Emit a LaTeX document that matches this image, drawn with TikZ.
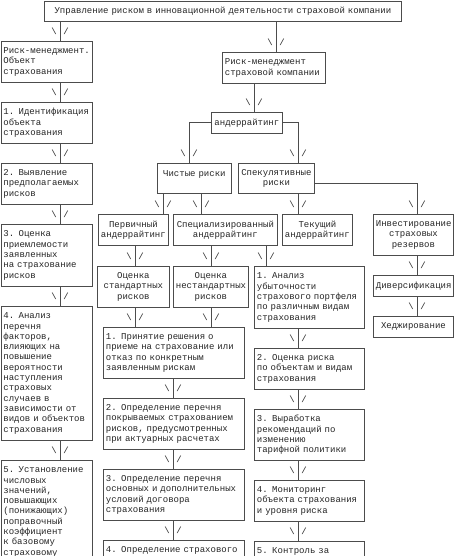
\documentclass[tikz,border=0pt]{standalone}
\usepackage{fontspec}
\usepackage{xcolor}
\usepackage{tikz}
\usetikzlibrary{decorations.markings}
\newfontfamily\diagmono{Liberation Mono}
\definecolor{linecol}{gray}{0.3}
\definecolor{textcol}{gray}{0.15}
\hyphenpenalty=10000
\exhyphenpenalty=10000

\tikzset{
  box/.style={draw=linecol, line width=0.8pt, anchor=north west, inner xsep=2.5pt, inner ysep=0pt,
    text=textcol, font=\diagmono\fontsize{9pt}{10.3pt}\selectfont},
  lbox/.style={box, align=left},
  cbox/.style={box, align=center},
  glyph/.style={inner sep=0pt, text=textcol, font=\diagmono\fontsize{9pt}{10.3pt}\selectfont},
  flow/.style={draw=linecol, line width=0.8pt, postaction={decorate},
    decoration={markings, mark=at position -10pt with {\node[glyph] at (0pt,-6pt) {\textbackslash}; \node[glyph] at (0pt,6pt) {/};}}}
}

\begin{document}
\begin{tikzpicture}[x=1pt, y=-1pt]

\path[use as bounding box, fill=white] (0,0) rectangle (455,556);
\clip (0,0) rectangle (455,556);

% columns of the connectors
\coordinate (xLeft) at (60,0);
\coordinate (xRmk) at (276,0);
\coordinate (xUnd) at (254,0);
\coordinate (xPure) at (189,0);
\coordinate (xSpec) at (298,0);
\coordinate (xInv) at (417,0);
\coordinate (xPrim) at (163,0);
\coordinate (xSpez) at (201,0);
\coordinate (xStd) at (135,0);
\coordinate (xNstd) at (211,0);
\coordinate (xAnal) at (266,0);
\coordinate (xCen) at (173,0);

% Title
\node[cbox, text width=352pt, minimum height=20pt] (main) at (44,1) {Управление риском в инновационной деятельности страховой компании};

% Left column
\node[lbox, text width=86.5pt, minimum height=41pt] (rmo) at (0.5,41) {Риск-менеджмент.\\Объект\\страхования};
\node[lbox, text width=86.5pt, minimum height=41pt] (id1) at (0.5,102) {1. Идентификация\\объекта\\страхования};
\node[lbox, text width=86.5pt, minimum height=41pt] (id2) at (0.5,163) {2. Выявление\\предполагаемых\\рисков};
\node[lbox, text width=86.5pt, minimum height=62pt] (id3) at (0.5,224) {3. Оценка\\приемлемости\\заявленных\\на страхование\\рисков};
\node[lbox, text width=86.5pt, minimum height=134pt] (id4) at (0.5,306) {4. Анализ\\перечня\\факторов,\\влияющих на\\повышение\\вероятности\\наступления\\страховых\\случаев в\\зависимости от\\видов и объектов\\страхования};
\node[lbox, text width=86.5pt, minimum height=103pt] (id5) at (0.5,460) {5. Установление\\числовых\\значений,\\повышающих\\(понижающих)\\поправочный\\коэффициент\\к базовому\\страховому};

% Company branch
\node[lbox, text width=98pt, minimum height=31pt] (rmk) at (222,52) {Риск-менеджмент\\страховой компании};
\node[cbox, text width=66pt, minimum height=21pt] (und) at (211,112) {андеррайтинг};
\node[cbox, text width=69pt, minimum height=30pt] (pure) at (157,163) {Чистые риски\\\mbox{}};
\node[cbox, text width=71pt, minimum height=30pt] (spec) at (238,163) {Спекулятивные\\риски};
\node[cbox, text width=65pt, minimum height=31pt] (prim) at (98,214) {Первичный\\андеррайтинг};
\node[cbox, text width=99pt, minimum height=31pt] (spez) at (173,214) {Специализированный\\андеррайтинг};
\node[cbox, text width=65pt, minimum height=31pt] (tek) at (282,214) {Текущий\\андеррайтинг};
\node[cbox, text width=75pt, minimum height=41pt] (inv) at (373,214) {Инвестирование\\страховых\\резервов};
\node[cbox, text width=75pt, minimum height=21pt] (div) at (373,275) {Диверсификация};
\node[cbox, text width=75pt, minimum height=21pt] (hed) at (373,316) {Хеджирование};
\node[cbox, text width=67pt, minimum height=41pt] (std) at (97,266) {Оценка\\стандартных\\рисков};
\node[cbox, text width=70pt, minimum height=41pt] (nstd) at (173,266) {Оценка\\нестандартных\\рисков};

% Middle column
\node[lbox, text width=136pt, minimum height=51pt] (c1) at (103,327) {1. Принятие решения о\\приеме на страхование или\\отказ по конкретным\\заявленным рискам};
\node[lbox, text width=136pt, minimum height=51pt] (c2) at (103,398) {2. Определение перечня\\покрываемых страхованием\\рисков, предусмотренных\\при актуарных расчетах};
\node[lbox, text width=136pt, minimum height=51pt] (c3) at (103,469) {3. Определение перечня\\основных и дополнительных\\условий договора\\страхования};
\node[lbox, text width=136pt, minimum height=21pt] (c4) at (103,540) {4. Определение страхового};

% Right column
\node[lbox, text width=105pt, minimum height=62pt] (r1) at (254,266) {1. Анализ\\убыточности\\страхового портфеля\\по различным видам\\страхования};
\node[lbox, text width=105pt, minimum height=41pt] (r2) at (254,348) {2. Оценка риска\\по объектам и видам\\страхования};
\node[lbox, text width=105pt, minimum height=51pt] (r3) at (254,409) {3. Выработка\\рекомендаций по\\изменению\\тарифной политики};
\node[lbox, text width=105pt, minimum height=41pt] (r4) at (254,480) {4. Мониторинг\\объекта страхования\\и уровня риска};
\node[lbox, text width=105pt, minimum height=21pt] (r5) at (254,541) {5. Контроль за};

% Connectors
\draw[flow] (main.south -| xLeft) -- (rmo.north -| xLeft);
\draw[flow] (main.south -| xRmk) -- (rmk.north -| xRmk);
\foreach \a/\b in {rmo/id1, id1/id2, id2/id3, id3/id4, id4/id5}
  \draw[flow] (\a.south -| xLeft) -- (\b.north -| xLeft);
\draw[flow] (rmk.south -| xUnd) -- (und.north -| xUnd);
\draw[flow] (und.west) -| (pure.north -| xPure);
\draw[flow] (und.east) -| (spec.north -| xSpec);
\draw[flow] ([yshift=-5pt]spec.east) -| (inv.north -| xInv);
\draw[flow] (pure.south -| xPrim) -- (prim.north -| xPrim);
\draw[flow] (pure.south -| xSpez) -- (spez.north -| xSpez);
\draw[flow] (spec.south -| xSpec) -- (tek.north -| xSpec);
\draw[flow] (inv.south -| xInv) -- (div.north -| xInv);
\draw[flow] (div.south -| xInv) -- (hed.north -| xInv);
\draw[flow] (prim.south -| xStd) -- (std.north -| xStd);
\draw[flow] (spez.south -| xNstd) -- (nstd.north -| xNstd);
\draw[flow] (spez.south -| xAnal) -- (r1.north -| xAnal);
\draw[flow] (std.south -| xStd) -- (c1.north -| xStd);
\draw[flow] (nstd.south -| xNstd) -- (c1.north -| xNstd);
\foreach \a/\b in {c1/c2, c2/c3, c3/c4}
  \draw[flow] (\a.south -| xCen) -- (\b.north -| xCen);
\foreach \a/\b in {r1/r2, r2/r3, r3/r4, r4/r5}
  \draw[flow] (\a.south -| xSpec) -- (\b.north -| xSpec);

\end{tikzpicture}
\end{document}
